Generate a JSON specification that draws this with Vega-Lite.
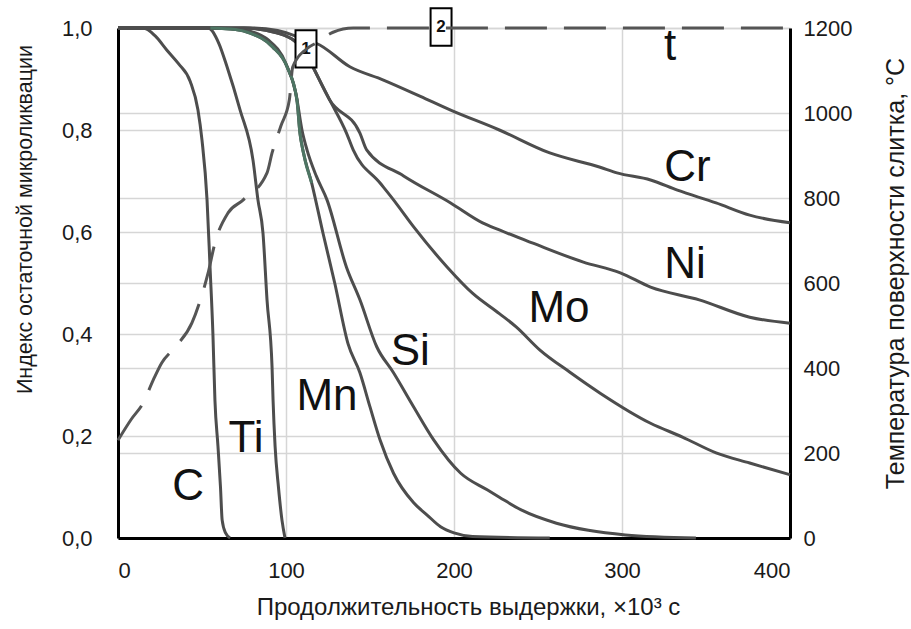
{
  "$schema": "https://vega.github.io/schema/vega-lite/v6.json",
  "autosize": {"type": "none"},
  "width": 672,
  "height": 510,
  "padding": {"left": 118, "top": 28, "right": 121, "bottom": 91},
  "background": "white",
  "config": {
    "view": {"stroke": null},
    "font": "Liberation Sans",
    "axis": {"labelFont": "Liberation Sans", "titleFont": "Liberation Sans", "labelColor": "#1a1a1a", "titleColor": "#1a1a1a", "titleFontWeight": "normal", "domainColor": "#000000", "domainWidth": 3, "ticks": false, "gridColor": "#d6d6d6", "gridWidth": 1.5, "labelFontSize": 22, "titleFontSize": 21.5}
  },
  "datasets": {
    "curves": [
      {"s": "C", "x": 0, "v": 1}, {"s": "C", "x": 15, "v": 1}, {"s": "C", "x": 22, "v": 0.985}, {"s": "C", "x": 29, "v": 0.957}, {"s": "C", "x": 36, "v": 0.93}, {"s": "C", "x": 43, "v": 0.895}, {"s": "C", "x": 47.6, "v": 0.839}, {"s": "C", "x": 50, "v": 0.78}, {"s": "C", "x": 53, "v": 0.663}, {"s": "C", "x": 54.8, "v": 0.53}, {"s": "C", "x": 56.5, "v": 0.4}, {"s": "C", "x": 57.7, "v": 0.27}, {"s": "C", "x": 59.5, "v": 0.18}, {"s": "C", "x": 61, "v": 0.1}, {"s": "C", "x": 62, "v": 0.035}, {"s": "C", "x": 64, "v": 0.01}, {"s": "C", "x": 66.7, "v": 0},
      {"s": "Ti", "x": 0, "v": 1}, {"s": "Ti", "x": 53.6, "v": 1}, {"s": "Ti", "x": 60, "v": 0.97}, {"s": "Ti", "x": 64.9, "v": 0.924}, {"s": "Ti", "x": 72.6, "v": 0.84}, {"s": "Ti", "x": 80.4, "v": 0.74}, {"s": "Ti", "x": 83.3, "v": 0.663}, {"s": "Ti", "x": 86.3, "v": 0.598}, {"s": "Ti", "x": 88.7, "v": 0.467}, {"s": "Ti", "x": 91.7, "v": 0.335}, {"s": "Ti", "x": 92.3, "v": 0.27}, {"s": "Ti", "x": 93.5, "v": 0.18}, {"s": "Ti", "x": 95.5, "v": 0.1}, {"s": "Ti", "x": 97.6, "v": 0.035}, {"s": "Ti", "x": 99.4, "v": 0},
      {"s": "Mn", "x": 0, "v": 1}, {"s": "Mn", "x": 55, "v": 1}, {"s": "Mn", "x": 70, "v": 0.997}, {"s": "Mn", "x": 78.6, "v": 0.99}, {"s": "Mn", "x": 92, "v": 0.963}, {"s": "Mn", "x": 100.6, "v": 0.924}, {"s": "Mn", "x": 106.5, "v": 0.859}, {"s": "Mn", "x": 108.3, "v": 0.794}, {"s": "Mn", "x": 110, "v": 0.761}, {"s": "Mn", "x": 115.3, "v": 0.696}, {"s": "Mn", "x": 122, "v": 0.598}, {"s": "Mn", "x": 129, "v": 0.5}, {"s": "Mn", "x": 137, "v": 0.38}, {"s": "Mn", "x": 144, "v": 0.324}, {"s": "Mn", "x": 150, "v": 0.257}, {"s": "Mn", "x": 156, "v": 0.192}, {"s": "Mn", "x": 164, "v": 0.127}, {"s": "Mn", "x": 176, "v": 0.069}, {"s": "Mn", "x": 184, "v": 0.045}, {"s": "Mn", "x": 192, "v": 0.022}, {"s": "Mn", "x": 200, "v": 0.01}, {"s": "Mn", "x": 211, "v": 0.003}, {"s": "Mn", "x": 257, "v": 0},
      {"s": "Si", "x": 0, "v": 1}, {"s": "Si", "x": 60, "v": 1}, {"s": "Si", "x": 75, "v": 0.996}, {"s": "Si", "x": 90, "v": 0.975}, {"s": "Si", "x": 100, "v": 0.93}, {"s": "Si", "x": 106, "v": 0.87}, {"s": "Si", "x": 109.5, "v": 0.8}, {"s": "Si", "x": 112.5, "v": 0.761}, {"s": "Si", "x": 118, "v": 0.71}, {"s": "Si", "x": 124.4, "v": 0.663}, {"s": "Si", "x": 136, "v": 0.531}, {"s": "Si", "x": 144, "v": 0.467}, {"s": "Si", "x": 154, "v": 0.375}, {"s": "Si", "x": 164, "v": 0.324}, {"s": "Si", "x": 176, "v": 0.257}, {"s": "Si", "x": 188, "v": 0.192}, {"s": "Si", "x": 204, "v": 0.127}, {"s": "Si", "x": 220, "v": 0.094}, {"s": "Si", "x": 227, "v": 0.08}, {"s": "Si", "x": 240, "v": 0.055}, {"s": "Si", "x": 261, "v": 0.029}, {"s": "Si", "x": 280, "v": 0.015}, {"s": "Si", "x": 302, "v": 0.006}, {"s": "Si", "x": 344, "v": 0},
      {"s": "Mo", "x": 0, "v": 1}, {"s": "Mo", "x": 75, "v": 1}, {"s": "Mo", "x": 95, "v": 0.99}, {"s": "Mo", "x": 105, "v": 0.975}, {"s": "Mo", "x": 112, "v": 0.95}, {"s": "Mo", "x": 116, "v": 0.924}, {"s": "Mo", "x": 126, "v": 0.859}, {"s": "Mo", "x": 136, "v": 0.794}, {"s": "Mo", "x": 140, "v": 0.761}, {"s": "Mo", "x": 156, "v": 0.696}, {"s": "Mo", "x": 164, "v": 0.663}, {"s": "Mo", "x": 176, "v": 0.61}, {"s": "Mo", "x": 196, "v": 0.531}, {"s": "Mo", "x": 211, "v": 0.48}, {"s": "Mo", "x": 227, "v": 0.44}, {"s": "Mo", "x": 237, "v": 0.414}, {"s": "Mo", "x": 251, "v": 0.369}, {"s": "Mo", "x": 269, "v": 0.325}, {"s": "Mo", "x": 287, "v": 0.284}, {"s": "Mo", "x": 317, "v": 0.225}, {"s": "Mo", "x": 336, "v": 0.198}, {"s": "Mo", "x": 356, "v": 0.167}, {"s": "Mo", "x": 376, "v": 0.147}, {"s": "Mo", "x": 400, "v": 0.124},
      {"s": "Ni", "x": 0, "v": 1}, {"s": "Ni", "x": 75, "v": 1}, {"s": "Ni", "x": 95, "v": 0.99}, {"s": "Ni", "x": 105, "v": 0.975}, {"s": "Ni", "x": 112, "v": 0.95}, {"s": "Ni", "x": 116, "v": 0.924}, {"s": "Ni", "x": 126, "v": 0.859}, {"s": "Ni", "x": 144, "v": 0.794}, {"s": "Ni", "x": 148, "v": 0.761}, {"s": "Ni", "x": 170, "v": 0.71}, {"s": "Ni", "x": 198, "v": 0.657}, {"s": "Ni", "x": 217, "v": 0.618}, {"s": "Ni", "x": 227, "v": 0.604}, {"s": "Ni", "x": 247, "v": 0.578}, {"s": "Ni", "x": 277, "v": 0.541}, {"s": "Ni", "x": 299, "v": 0.52}, {"s": "Ni", "x": 317, "v": 0.492}, {"s": "Ni", "x": 346, "v": 0.467}, {"s": "Ni", "x": 376, "v": 0.433}, {"s": "Ni", "x": 400, "v": 0.421},
      {"s": "Cr", "x": 0, "v": 1}, {"s": "Cr", "x": 80, "v": 1}, {"s": "Cr", "x": 95, "v": 0.995}, {"s": "Cr", "x": 105, "v": 0.985}, {"s": "Cr", "x": 112, "v": 0.975}, {"s": "Cr", "x": 118, "v": 0.97}, {"s": "Cr", "x": 138, "v": 0.924}, {"s": "Cr", "x": 158, "v": 0.898}, {"s": "Cr", "x": 180, "v": 0.866}, {"s": "Cr", "x": 198, "v": 0.839}, {"s": "Cr", "x": 227, "v": 0.8}, {"s": "Cr", "x": 257, "v": 0.755}, {"s": "Cr", "x": 287, "v": 0.727}, {"s": "Cr", "x": 297, "v": 0.716}, {"s": "Cr", "x": 317, "v": 0.702}, {"s": "Cr", "x": 333, "v": 0.682}, {"s": "Cr", "x": 356, "v": 0.657}, {"s": "Cr", "x": 376, "v": 0.633}, {"s": "Cr", "x": 400, "v": 0.618}
    ],
    "temp": [
      {"x": 0, "T": 230}, {"x": 8, "T": 280}, {"x": 15, "T": 318}, {"x": 21, "T": 372}, {"x": 26, "T": 412}, {"x": 34, "T": 449}, {"x": 44, "T": 506}, {"x": 49, "T": 560}, {"x": 53.6, "T": 623}, {"x": 57.7, "T": 694}, {"x": 65.5, "T": 765}, {"x": 74.4, "T": 795}, {"x": 88.7, "T": 859}, {"x": 91.7, "T": 906}, {"x": 97, "T": 970}, {"x": 102, "T": 1031}, {"x": 104, "T": 1108}, {"x": 112, "T": 1150}, {"x": 118, "T": 1165}, {"x": 128, "T": 1190}, {"x": 140, "T": 1200}, {"x": 400, "T": 1200}
    ],
    "labels": [
      {"t": "C", "x": 41.7, "v": 0.1}, {"t": "Ti", "x": 76.2, "v": 0.194}, {"t": "Mn", "x": 124.4, "v": 0.276}, {"t": "Si", "x": 174, "v": 0.365}, {"t": "Mo", "x": 262.5, "v": 0.449}, {"t": "Ni", "x": 337.5, "v": 0.535}, {"t": "Cr", "x": 339, "v": 0.725}, {"t": "t", "x": 328.6, "v": 0.963}
    ],
    "boxes": [
      {"b": "1", "x": 111.9, "v": 0.959}, {"b": "2", "x": 192.3, "v": 1.002}
    ]
  },
  "layer": [
    {
      "layer": [
        {
          "data": {"name": "curves"},
          "mark": {"type": "line", "color": "#4d4d4d", "strokeWidth": 3, "interpolate": "monotone"},
          "encoding": {
            "x": {"field": "x", "type": "quantitative", "scale": {"domain": [0, 400], "nice": false},
                  "axis": {"values": [0, 100, 200, 300, 400], "grid": true, "labelPadding": 22, "title": "Продолжительность выдержки, ×10³ с", "titleFontSize": 24, "titlePadding": 14, "titleX": 350, "titleAlign": "center"}},
            "y": {"field": "v", "type": "quantitative", "scale": {"domain": [0, 1], "nice": false},
                  "axis": {"orient": "left", "values": [0, 0.2, 0.4, 0.6, 0.8, 1], "grid": true, "labelPadding": 26, "labelExpr": "replace(format(datum.value, '.1f'), '.', ',')", "title": "Индекс остаточной микроликвации", "titleX": -93, "titleY": 191, "titleAngle": -90, "titleBaseline": "middle", "titleAlign": "center"}},
            "detail": {"field": "s", "type": "nominal"}
          }
        },
        {
          "data": {"name": "curves"},
          "transform": [{"filter": "datum.s == 'Mn' && datum.x >= 55 && datum.x <= 116"}],
          "mark": {"type": "line", "color": "#4d7563", "strokeWidth": 3, "interpolate": "monotone"},
          "encoding": {
            "x": {"field": "x", "type": "quantitative"},
            "y": {"field": "v", "type": "quantitative"}
          }
        },
        {
          "data": {"name": "labels"},
          "mark": {"type": "text", "fontSize": 44, "font": "Liberation Sans", "color": "#111111", "align": "center", "baseline": "middle"},
          "encoding": {
            "x": {"field": "x", "type": "quantitative"},
            "y": {"field": "v", "type": "quantitative"},
            "text": {"field": "t"}
          }
        },
        {
          "data": {"name": "boxes"},
          "mark": {"type": "point", "shape": "M-0.56,-1L0.56,-1L0.56,1L-0.56,1Z", "size": 1400, "filled": true, "fill": "white", "fillOpacity": 1, "stroke": "black", "strokeWidth": 2, "opacity": 1},
          "encoding": {
            "x": {"field": "x", "type": "quantitative"},
            "y": {"field": "v", "type": "quantitative"}
          }
        },
        {
          "data": {"name": "boxes"},
          "mark": {"type": "text", "fontSize": 17, "fontWeight": "bold", "font": "Liberation Sans", "color": "#111111", "align": "center", "baseline": "middle"},
          "encoding": {
            "x": {"field": "x", "type": "quantitative"},
            "y": {"field": "v", "type": "quantitative"},
            "text": {"field": "b"}
          }
        }
      ]
    },
    {
      "data": {"name": "temp"},
      "mark": {"type": "line", "color": "#555555", "strokeWidth": 3, "strokeDash": [42, 17], "interpolate": "monotone"},
      "encoding": {
        "x": {"field": "x", "type": "quantitative"},
        "y": {"field": "T", "type": "quantitative", "scale": {"domain": [0, 1200], "nice": false},
              "axis": {"orient": "right", "values": [0, 200, 400, 600, 800, 1000, 1200], "grid": true, "labelPadding": 13, "format": "d", "title": "Температура поверхности слитка, °С", "titleFontSize": 25, "titleX": 105, "titleY": 245, "titleAngle": -90, "titleBaseline": "middle", "titleAlign": "center"}}
      }
    }
  ],
  "resolve": {"scale": {"y": "independent"}}
}
